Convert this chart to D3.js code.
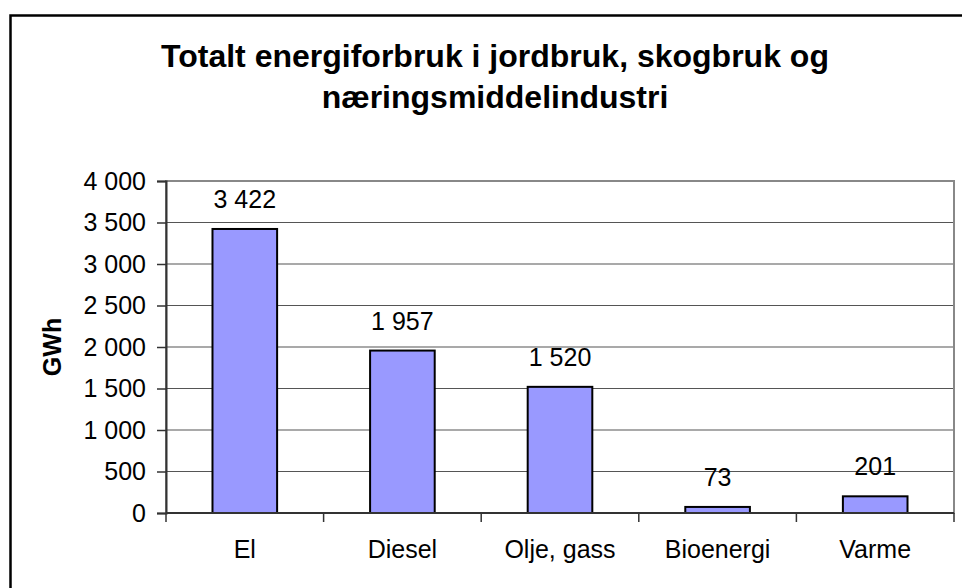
<!DOCTYPE html>
<meta charset="utf-8">
<style>
  body { margin: 0; background: #fff; }
  text { font-family: "Liberation Sans", Arial, sans-serif; fill: #000; }
</style>
<body>
<script src="https://cdnjs.cloudflare.com/ajax/libs/d3/7.8.5/d3.min.js"></script>
<script>
  // data
  var categories = ["El", "Diesel", "Olje, gass", "Bioenergi", "Varme"];
  var values = [3422, 1957, 1520, 73, 201];
  var yTicks = [0, 500, 1000, 1500, 2000, 2500, 3000, 3500, 4000];
  var titleLines = ["Totalt energiforbruk i jordbruk, skogbruk og", "næringsmiddelindustri"];

  var width = 962, height = 588;
  var plot = { left: 166, right: 954, top: 181, bottom: 513 };

  var nb = d3.formatLocale({ decimal: ",", thousands: " ", grouping: [3], currency: ["", ""] });
  var fmt = nb.format(",d");

  var svg = d3.select("body").append("svg")
      .attr("width", width)
      .attr("height", height);

  // outer chart frame (runs off the right and bottom edge)
  svg.append("rect")
      .attr("x", 10.5).attr("y", 15.5)
      .attr("width", 1000).attr("height", 1000)
      .attr("fill", "none")
      .attr("stroke", "#000")
      .attr("stroke-width", 2.5);

  // title
  svg.append("g").selectAll("text")
    .data(titleLines)
    .enter().append("text")
      .attr("x", 495)
      .attr("y", function(d, i) { return 67 + i * 41; })
      .attr("text-anchor", "middle")
      .style("font-size", "32px")
      .style("font-weight", "bold")
      .text(function(d) { return d; });

  var x = d3.scaleBand()
      .domain(categories)
      .range([plot.left, plot.right])
      .padding(0);

  var y = d3.scaleLinear()
      .domain([0, 4000])
      .range([plot.bottom, plot.top]);

  var barW = x.bandwidth() * 0.41;

  // gridlines
  svg.append("g").selectAll("line")
    .data(yTicks.filter(function(d) { return d > 0 && d < 4000; }))
    .enter().append("line")
      .attr("x1", plot.left).attr("x2", plot.right)
      .attr("y1", function(d) { return y(d); })
      .attr("y2", function(d) { return y(d); })
      .attr("stroke", "#555")
      .attr("stroke-width", 1.2);

  // plot area border
  svg.append("rect")
      .attr("x", plot.left).attr("y", plot.top)
      .attr("width", plot.right - plot.left)
      .attr("height", plot.bottom - plot.top)
      .attr("fill", "none")
      .attr("stroke", "#888")
      .attr("stroke-width", 2);

  // bars
  svg.append("g").selectAll("rect")
    .data(values)
    .enter().append("rect")
      .attr("x", function(d, i) { return x(categories[i]) + (x.bandwidth() - barW) / 2; })
      .attr("y", function(d) { return y(d); })
      .attr("width", barW)
      .attr("height", function(d) { return y(0) - y(d); })
      .attr("fill", "#9999ff")
      .attr("stroke", "#000")
      .attr("stroke-width", 2);

  // value labels
  svg.append("g").selectAll("text")
    .data(values)
    .enter().append("text")
      .attr("x", function(d, i) { return x(categories[i]) + x.bandwidth() / 2; })
      .attr("y", function(d) { return y(d) - 21; })
      .attr("text-anchor", "middle")
      .style("font-size", "25px")
      .text(function(d) { return fmt(d); });

  // y axis
  var yAxis = svg.append("g")
      .attr("transform", "translate(" + plot.left + ",0)")
      .call(d3.axisLeft(y).tickValues(yTicks).tickFormat(fmt).tickSize(9).tickPadding(11));
  yAxis.select(".domain").attr("stroke", "#333").attr("stroke-width", 2);
  yAxis.selectAll(".tick line").attr("stroke", "#333").attr("stroke-width", 1.5);
  yAxis.selectAll(".tick text")
      .style("font-size", "25px")
      .style("font-family", "'Liberation Sans', Arial, sans-serif");

  // x axis line and boundary ticks
  svg.append("line")
      .attr("x1", plot.left).attr("x2", plot.right)
      .attr("y1", y(0)).attr("y2", y(0))
      .attr("stroke", "#333").attr("stroke-width", 2);

  var bounds = categories.map(function(c) { return x(c); }).concat([plot.right]);
  svg.append("g").selectAll("line")
    .data(bounds)
    .enter().append("line")
      .attr("x1", function(d) { return d; }).attr("x2", function(d) { return d; })
      .attr("y1", y(0)).attr("y2", y(0) + 9)
      .attr("stroke", "#333").attr("stroke-width", 1.5);

  svg.append("g").selectAll("text")
    .data(categories)
    .enter().append("text")
      .attr("x", function(d) { return x(d) + x.bandwidth() / 2; })
      .attr("y", 558)
      .attr("text-anchor", "middle")
      .style("font-size", "25px")
      .text(function(d) { return d; });

  // y axis title
  svg.append("text")
      .attr("transform", "translate(61," + (plot.top + plot.bottom) / 2 + ") rotate(-90)")
      .attr("text-anchor", "middle")
      .style("font-size", "25px")
      .style("font-weight", "bold")
      .text("GWh");
</script>
</body>
